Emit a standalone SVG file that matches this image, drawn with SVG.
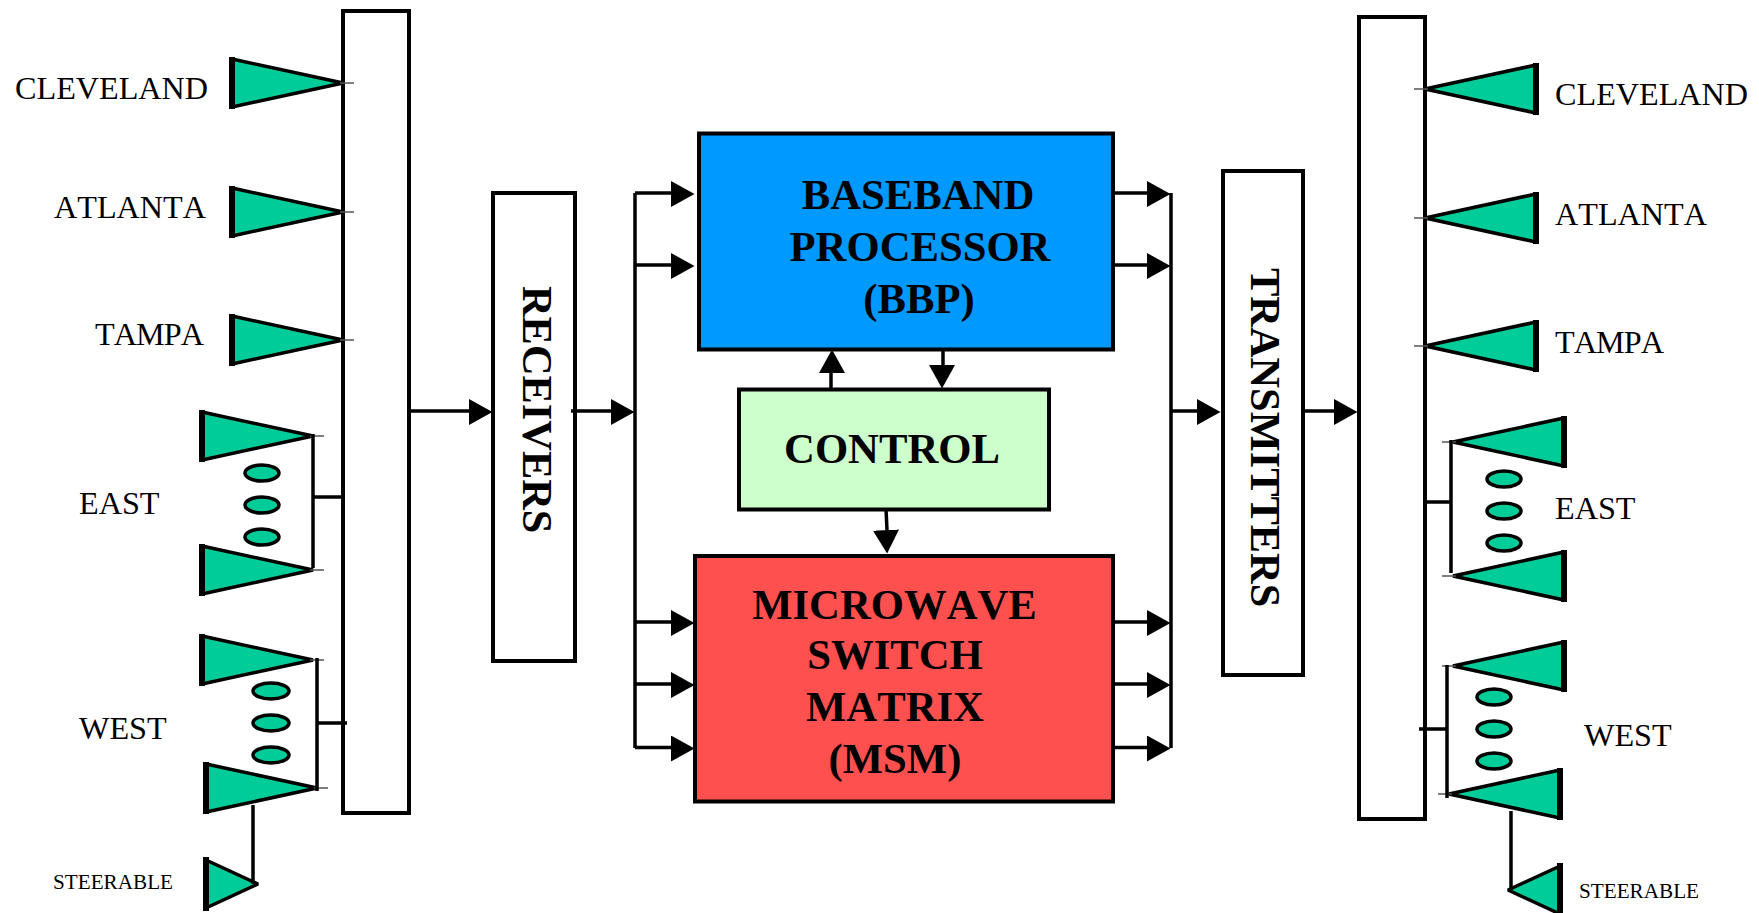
<svg xmlns="http://www.w3.org/2000/svg" width="1759" height="913" viewBox="0 0 1759 913">
<style>
text{font-family:"Liberation Serif","Times New Roman",serif;fill:#000;font-kerning:none}
.l{font-size:32.2px}
.s{font-size:21.2px}
.b{font-size:42.7px;font-weight:bold;text-anchor:middle}
.v{font-size:42.4px;font-weight:bold}
.box{stroke:#000;stroke-width:4}
.w{fill:#fff}
.ant{fill:#00cc99;stroke:#000;stroke-width:3.5;stroke-linejoin:bevel}
.el{fill:#00cc99;stroke:#000;stroke-width:3.5}
.stub{stroke:#555;stroke-width:1.5;fill:none}
.c{stroke:#000;stroke-width:3.5;fill:none}
.a{marker-end:url(#head)}
</style>
<defs>
<marker id="head" markerUnits="userSpaceOnUse" markerWidth="24" markerHeight="26" refX="0" refY="12" orient="auto">
<path d="M0,0L23.5,13L0,26Z" fill="#000"/>
</marker>
<g id="antR">
<polygon class="ant" points="0,-24 111,0 0,24"/>
<rect x="-3" y="-26" width="6" height="52" fill="#000"/>
<line class="stub" x1="108" y1="0" x2="122" y2="0"/>
</g>
<g id="antL">
<polygon class="ant" points="0,-24 -111,0 0,24"/>
<rect x="-3" y="-26" width="6" height="52" fill="#000"/>
<line class="stub" x1="-108" y1="0" x2="-122" y2="0"/>
</g>
</defs>
<rect width="1759" height="913" fill="#fff"/>

<g id="rx-bus"><rect class="box w" x="343" y="11" width="66" height="802"/></g>
<g id="tx-bus"><rect class="box w" x="1359" y="17" width="66" height="802"/></g>
<g id="receivers"><rect class="box w" x="493" y="193" width="82" height="468"/>
<text class="v" transform="translate(523,286) rotate(90)">RECEIVERS</text></g>
<g id="transmitters"><rect class="box w" x="1223" y="171" width="80" height="504"/>
<text class="v" transform="translate(1251,268) rotate(90)">TRANSMITTERS</text></g>
<g id="bbp"><rect class="box" fill="#0099ff" x="699" y="133.5" width="414" height="216"/>
<text class="b" x="918" y="209">BASEBAND</text>
<text class="b" x="920" y="261">PROCESSOR</text>
<text class="b" x="919" y="313">(BBP)</text></g>
<g id="control"><rect class="box" fill="#ccffcc" x="739" y="389.5" width="310" height="120"/>
<text class="b" x="892" y="463">CONTROL</text></g>
<g id="msm"><rect class="box" fill="#ff5050" x="695" y="556" width="418" height="245.500"/>
<text class="b" x="894.500" y="619">MICROWAVE</text>
<text class="b" x="895" y="669">SWITCH</text>
<text class="b" x="895" y="721">MATRIX</text>
<text class="b" x="895" y="773">(MSM)</text></g>

<g id="rx-cleveland"><use href="#antR" x="232" y="83"/><text class="l" x="15" y="99">CLEVELAND</text></g>
<g id="rx-atlanta"><use href="#antR" x="232" y="212"/><text class="l" x="54" y="218">ATLANTA</text></g>
<g id="rx-tampa"><use href="#antR" x="232" y="340"/><text class="l" x="95" y="345" textLength="109">TAMPA</text></g>
<g id="rx-east"><use href="#antR" x="202" y="436"/><use href="#antR" x="202" y="570"/>
<ellipse class="el" cx="262" cy="473" rx="17" ry="8"/><ellipse class="el" cx="262" cy="505" rx="17" ry="8"/><ellipse class="el" cx="262" cy="537" rx="17" ry="8"/>
<text class="l" x="79" y="514">EAST</text></g>
<g id="rx-west"><use href="#antR" x="202" y="660"/><use href="#antR" x="206" y="788"/>
<ellipse class="el" cx="271" cy="691" rx="18" ry="8"/><ellipse class="el" cx="271" cy="723" rx="18" ry="8"/><ellipse class="el" cx="271" cy="755" rx="18" ry="8"/>
<text class="l" x="79" y="739">WEST</text></g>
<g id="rx-steerable"><polygon class="ant" points="206,860 258,884 206,908"/><rect x="203" y="857" width="6" height="54" fill="#000"/>
<text class="s" x="53" y="889">STEERABLE</text></g>

<g id="tx-cleveland"><use href="#antL" x="1536" y="89"/><text class="l" x="1555" y="105">CLEVELAND</text></g>
<g id="tx-atlanta"><use href="#antL" x="1536" y="218"/><text class="l" x="1555" y="225">ATLANTA</text></g>
<g id="tx-tampa"><use href="#antL" x="1536" y="346"/><text class="l" x="1555" y="353" textLength="109">TAMPA</text></g>
<g id="tx-east"><use href="#antL" x="1564" y="442"/><use href="#antL" x="1564" y="576"/>
<ellipse class="el" cx="1504" cy="479" rx="17" ry="8"/><ellipse class="el" cx="1504" cy="511" rx="17" ry="8"/><ellipse class="el" cx="1504" cy="543" rx="17" ry="8"/>
<text class="l" x="1555" y="519">EAST</text></g>
<g id="tx-west"><use href="#antL" x="1564" y="666"/><use href="#antL" x="1560" y="794"/>
<ellipse class="el" cx="1494" cy="697" rx="17" ry="8"/><ellipse class="el" cx="1494" cy="729" rx="17" ry="8"/><ellipse class="el" cx="1494" cy="761" rx="17" ry="8"/>
<text class="l" x="1584" y="746">WEST</text></g>
<g id="tx-steerable"><polygon class="ant" points="1560,866 1508,890 1560,914"/><rect x="1557" y="863" width="6" height="54" fill="#000"/>
<text class="s" x="1579" y="898">STEERABLE</text></g>

<g id="connectors">
<path class="c" d="M313,434V568M313,497H343"/>
<path class="c" d="M317,658V791M317,723H347"/>
<path class="c" d="M253,805V884"/>
<path class="c" d="M1451,440V573M1425,502H1451"/>
<path class="c" d="M1447,665V798M1419,729H1447"/>
<path class="c" d="M1511,811V890"/>
<path class="c a" d="M409,411H469"/>
<path class="c a" d="M571,411H611"/>
<path class="c" d="M635,193V748"/>
<path class="c a" d="M635,193H671"/>
<path class="c a" d="M635,265H671"/>
<path class="c a" d="M635,622H671"/>
<path class="c a" d="M635,684H671"/>
<path class="c a" d="M635,747.500H671"/>
<path class="c a" d="M1113,193H1147"/>
<path class="c a" d="M1113,265H1147"/>
<path class="c a" d="M1113,622H1147"/>
<path class="c a" d="M1113,684H1147"/>
<path class="c a" d="M1113,747.500H1147"/>
<path class="c" d="M1171,193V748"/>
<path class="c a" d="M1171,411H1197"/>
<path class="c a" d="M1303,411H1334"/>
<path class="c a" d="M831,389V373"/>
<path class="c a" d="M943,349V365"/>
<path class="c a" d="M886,509L887,530"/>
</g>
</svg>
